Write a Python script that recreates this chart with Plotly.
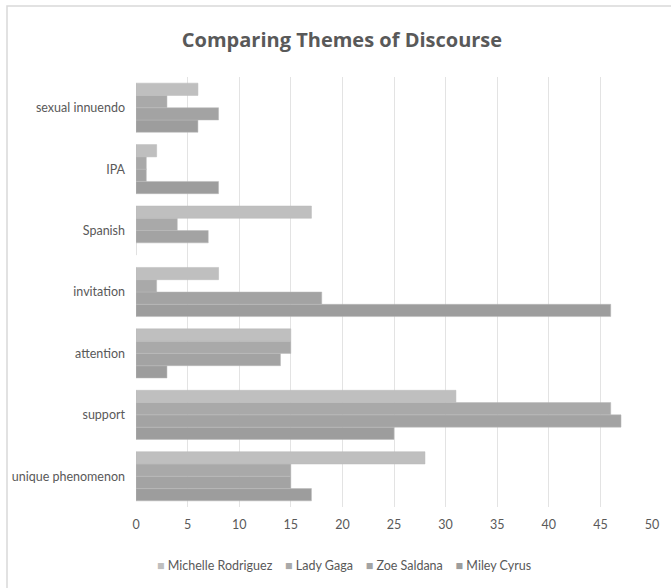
import plotly.graph_objects as go

# Themes, listed bottom to top as they appear on the axis
themes = ["unique phenomenon", "support", "attention", "invitation",
          "Spanish", "IPA", "sexual innuendo"]

michelle_rodriguez = [28, 31, 15, 8, 17, 2, 6]
lady_gaga = [15, 46, 15, 2, 4, 1, 3]
zoe_saldana = [15, 47, 14, 18, 7, 1, 8]
miley_cyrus = [17, 25, 3, 46, 0, 8, 6]

x_ticks = [0, 5, 10, 15, 20, 25, 30, 35, 40, 45, 50]

series = [
    ("Michelle Rodriguez", michelle_rodriguez, "#bfbfbf"),
    ("Lady Gaga", lady_gaga, "#a9a9a9"),
    ("Zoe Saldana", zoe_saldana, "#a3a3a3"),
    ("Miley Cyrus", miley_cyrus, "#9d9d9d"),
]

fig = go.Figure()
# Plotly stacks grouped horizontal bars bottom-up, so add the last series first
for name, vals, color in reversed(series):
    fig.add_trace(go.Bar(
        y=themes, x=vals, name=name, orientation="h",
        marker=dict(color=color, line=dict(color="#b8b8b8", width=0.5)),
        showlegend=False,
    ))

W, H = 671, 588
L, R, T, B = 135, 16, 77, 81
pw, ph = W - L - R, H - T - B

def px_x(p):
    return (p - L) / pw

def px_y(p):
    return (H - B - p) / ph

text_font = dict(family="Lato, Open Sans, sans-serif", size=12.5, color="#595959")

# Compact legend row: coloured squares followed by series names
legend_text = "&nbsp;&nbsp;&nbsp;&nbsp;".join(
    f"<span style='color:{c}'>■</span> {n}" for n, _, c in series
)

fig.update_layout(
    width=W, height=H,
    margin=dict(l=L, r=R, t=T, b=B),
    paper_bgcolor="white", plot_bgcolor="white",
    barmode="group", bargap=0.2, bargroupgap=0,
    title=dict(text="<b>Comparing Themes of Discourse</b>", x=342 / W, xref="container",
               xanchor="center", y=1 - 40 / H, yanchor="middle",
               font=dict(family="Open Sans, sans-serif", size=20, color="#595959")),
    xaxis=dict(range=[0, 50], tickvals=x_ticks, showgrid=True, gridcolor="#e3e3e3",
               gridwidth=1, zeroline=False, showline=False, ticks="",
               ticklabelstandoff=8, tickfont=text_font, fixedrange=True),
    yaxis=dict(categoryorder="array", categoryarray=themes, showgrid=False,
               showline=False, zeroline=False, ticks="", ticklabelstandoff=10,
               tickfont=text_font, fixedrange=True),
    showlegend=False,
    annotations=[dict(text=legend_text, xref="paper", yref="paper",
                      x=px_x(345), y=px_y(565), xanchor="center", yanchor="middle",
                      showarrow=False, font=text_font)],
    shapes=[dict(type="rect", xref="paper", yref="paper",
                 x0=px_x(5), x1=px_x(675), y0=px_y(592), y1=px_y(6),
                 line=dict(color="#d9d9d9", width=1.5), layer="below")],
)

fig.write_html("out.html")
